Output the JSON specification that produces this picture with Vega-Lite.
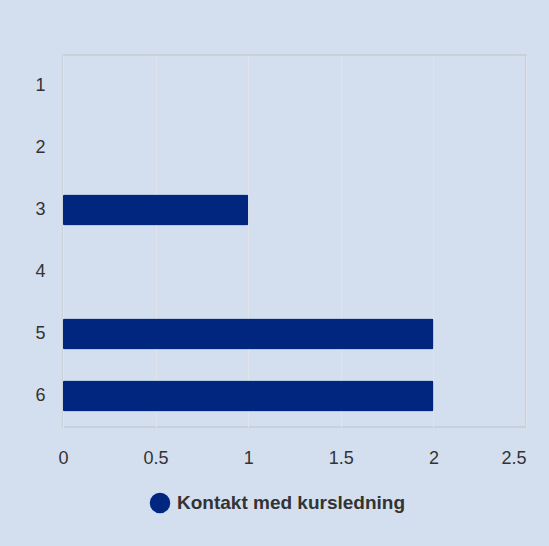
{
  "$schema": "https://vega.github.io/schema/vega-lite/v6.json",
  "autosize": {"type": "none"},
  "width": 463,
  "height": 372,
  "padding": {"left": 63, "top": 55, "right": 23, "bottom": 119},
  "background": "#d3dfee",
  "data": {
    "values": [
      {"category": "1", "value": 0, "series": "Kontakt med kursledning"},
      {"category": "2", "value": 0, "series": "Kontakt med kursledning"},
      {"category": "3", "value": 1, "series": "Kontakt med kursledning"},
      {"category": "4", "value": 0, "series": "Kontakt med kursledning"},
      {"category": "5", "value": 2, "series": "Kontakt med kursledning"},
      {"category": "6", "value": 2, "series": "Kontakt med kursledning"}
    ]
  },
  "mark": {"type": "bar", "cornerRadius": 1.5},
  "encoding": {
    "y": {
      "field": "category",
      "type": "nominal",
      "sort": ["1", "2", "3", "4", "5", "6"],
      "scale": {"paddingInner": 0.5, "paddingOuter": 0.25},
      "axis": {
        "title": null,
        "domain": false,
        "ticks": false,
        "labelPadding": 18,
        "labelFontSize": 18,
        "labelFont": "Liberation Sans",
        "labelColor": "#333333"
      }
    },
    "x": {
      "field": "value",
      "type": "quantitative",
      "scale": {"domain": [0, 2.5], "nice": false},
      "axis": {
        "title": null,
        "values": [0, 0.5, 1, 1.5, 2, 2.5],
        "format": "~g",
        "domain": false,
        "ticks": false,
        "grid": true,
        "gridColor": "#dfe4ec",
        "gridWidth": 1,
        "labelPadding": 22,
        "labelFontSize": 18,
        "labelFont": "Liberation Sans",
        "labelColor": "#333333",
        "labelAlign": {"condition": {"test": "datum.value == 2.5", "value": "right"}, "value": "center"}
      }
    },
    "color": {
      "field": "series",
      "type": "nominal",
      "scale": {"range": ["#00267f"]},
      "legend": {
        "title": null,
        "orient": "none",
        "legendX": 86,
        "legendY": 437,
        "symbolType": "circle",
        "symbolSize": 420,
        "symbolOpacity": 1,
        "labelFontSize": 19,
        "labelFont": "Liberation Sans",
        "labelFontWeight": "bold",
        "labelColor": "#333333",
        "labelOffset": 6,
        "labelLimit": 0
      }
    }
  },
  "config": {
    "view": {"stroke": "#c6cbd2", "strokeWidth": 1.5}
  }
}
